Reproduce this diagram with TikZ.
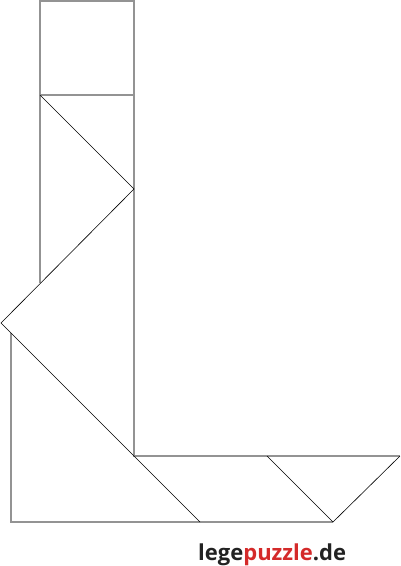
\documentclass[tikz,border=0pt]{standalone}
\usepackage{fontspec}
\setmainfont{Open Sans}
\usepackage{tikz}
\definecolor{legered}{HTML}{D42A2A}
\definecolor{legedark}{HTML}{222222}
\tikzstyle{edge} = [draw=gray!85, line width=1.3pt]
\tikzstyle{cut} = [draw=black, line width=0.6pt]
\tikzstyle{brand} = [anchor=base west, inner sep=0pt, font=\fontsize{22}{24}\selectfont\bfseries, text=legedark]

\begin{document}
\begin{tikzpicture}[x=1pt, y=-1pt]
				\useasboundingbox (0,0) rectangle (400,566);
				% Outer edges
				\path [edge] (40,1) rectangle (134,95);
				\path [edge] (40,95) -- (40,283);
				\path [edge] (134,95) -- (134,456) -- (400,456);
				\path [edge] (11,333) -- (11,522) -- (333,522);
				% Cuts between pieces
				\path [cut] (40,95) -- (134,189) -- (1,323) -- (200,522);
				\path [cut] (267,456) -- (333,522) -- (400,456);
				% Label
				\node [brand] (logo) at (198,560) {lege\textcolor{legered}{puzzle}.de};
				\end{tikzpicture}
\end{document}
